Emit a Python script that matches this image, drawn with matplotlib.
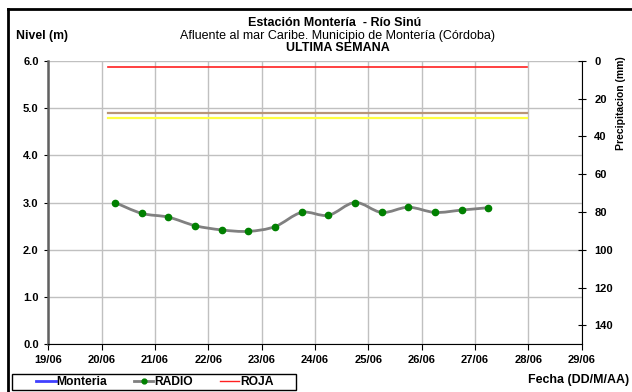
import matplotlib
matplotlib.use("Agg")
import matplotlib.pyplot as plt
from matplotlib.path import Path
from matplotlib.patches import PathPatch, Rectangle
from matplotlib.lines import Line2D

plt.rcParams['font.family'] = ['Liberation Sans', 'DejaVu Sans']

# dias contados desde 19/06 00:00
fechas = ["19/06", "20/06", "21/06", "22/06", "23/06", "24/06",
          "25/06", "26/06", "27/06", "28/06", "29/06"]
radio_dias = [1.25, 1.75, 2.25, 2.75, 3.25, 3.75, 4.25, 4.75,
              5.25, 5.75, 6.25, 6.75, 7.25, 7.75, 8.25]
radio_nivel = [3.00, 2.77, 2.69, 2.51, 2.42, 2.39, 2.49, 2.79,
               2.73, 3.00, 2.79, 2.90, 2.79, 2.84, 2.89]
monteria_dias = []
monteria_nivel = []

# umbrales (roja, naranja, amarilla)
umbral_dias = [1.11, 8.97]
nivel_roja = 5.86
nivel_naranja = 4.90
nivel_amarilla = 4.79

W, H = 632, 392
fig = plt.figure(figsize=(W / 100, H / 100), dpi=100)
ax = fig.add_axes([48.4 / W, 1 - 344.3 / H, (581.7 - 48.4) / W, (344.3 - 60.7) / H])
ax2 = ax.twinx()

ax.set_xlim(0, len(fechas) - 1)
ax.set_ylim(0, 6)
ax.set_xticks(range(len(fechas)))
ax.set_xticklabels(fechas)
ax.set_yticks([0, 1, 2, 3, 4, 5, 6])
ax.set_yticklabels(["%.1f" % v for v in range(7)])
ax.grid(True, color="#c0c0c0", lw=1)
ax.set_axisbelow(True)

for s in ["top", "right"]:
    ax.spines[s].set_visible(False)
ax.spines["left"].set_color("#606060")
ax.spines["left"].set_linewidth(1.8)
ax.spines["bottom"].set_color("black")
ax.tick_params(axis="x", direction="out", length=4, labelsize=8, pad=4)
ax.tick_params(axis="y", direction="out", length=3, labelsize=8, pad=4)
for lab in ax.get_xticklabels() + ax.get_yticklabels():
    lab.set_fontweight("bold")

ax2.set_ylim(150, 0)
ax2.set_yticks(range(0, 150, 20))
for s in ["top", "left", "bottom"]:
    ax2.spines[s].set_visible(False)
ax2.spines["right"].set_color("black")
ax2.tick_params(axis="y", direction="inout", length=6, labelsize=8, pad=6)
for lab in ax2.get_yticklabels():
    lab.set_fontweight("bold")

# umbrales
ax.plot(umbral_dias, [nivel_roja] * 2, color="#ff2020", lw=1.2, zorder=3)
ax.plot(umbral_dias, [nivel_naranja] * 2, color="#b89577", lw=1.6, zorder=3)
ax.plot(umbral_dias, [nivel_amarilla] * 2, color="#ffff40", lw=1.6, zorder=3)

# linea suavizada tipo Excel (Bezier con tangentes Catmull-Rom)
n = len(radio_dias)
verts = [(radio_dias[0], radio_nivel[0])]
codes = [Path.MOVETO]
for i in range(n - 1):
    p0 = (radio_dias[max(i - 1, 0)], radio_nivel[max(i - 1, 0)])
    p1 = (radio_dias[i], radio_nivel[i])
    p2 = (radio_dias[i + 1], radio_nivel[i + 1])
    p3 = (radio_dias[min(i + 2, n - 1)], radio_nivel[min(i + 2, n - 1)])
    c1 = (p1[0] + (p2[0] - p0[0]) / 6, p1[1] + (p2[1] - p0[1]) / 6)
    c2 = (p2[0] - (p3[0] - p1[0]) / 6, p2[1] - (p3[1] - p1[1]) / 6)
    verts += [c1, c2, p2]
    codes += [Path.CURVE4] * 3
ax.add_patch(PathPatch(Path(verts, codes), fill=False, edgecolor="#808080",
                       lw=2.0, zorder=4, transform=ax.transData))
ax.plot(radio_dias, radio_nivel, ls="none", marker="o", ms=4.5,
        color="#008000", zorder=5)
ax.plot(monteria_dias, monteria_nivel, color="#4040ff", lw=2)

# textos
fig.text(335 / W, 1 - 22.7 / H, "Estación Montería  - Río Sinú", ha="center",
         va="center", fontsize=9, fontweight="bold")
fig.text(338 / W, 1 - 36 / H, "Afluente al mar Caribe. Municipio de Montería (Córdoba)",
         ha="center", va="center", fontsize=9)
fig.text(338 / W, 1 - 48 / H, "ULTIMA SEMANA", ha="center", va="center",
         fontsize=9, fontweight="bold")
fig.text(16 / W, 1 - 35.5 / H, "Nivel (m)", ha="left", va="center",
         fontsize=8.8, fontweight="bold")
fig.text(621.5 / W, 1 - 103 / H, "Precipitacion (mm)", ha="center", va="center",
         rotation=90, fontsize=7.5, fontweight="bold")
fig.text(629 / W, 1 - 380 / H, "Fecha (DD/M/AA)", ha="right", va="center",
         fontsize=8.9, fontweight="bold")

# leyenda
handles = [
    Line2D([], [], color="#4040ff", lw=2),
    Line2D([], [], color="#808080", lw=2, marker="o", ms=3.5,
           markerfacecolor="#008000", markeredgecolor="#008000"),
    Line2D([], [], color="#ff2020", lw=1),
]
fig.legend(handles, ["Monteria", "RADIO", "ROJA"], loc="center",
           bbox_to_anchor=(155 / W, 1 - 382 / H), ncol=3, frameon=False,
           borderpad=0, borderaxespad=0, handlelength=1.6, handletextpad=0.1,
           columnspacing=2.2, prop={"size": 8.7, "weight": "bold"})
fig.add_artist(Rectangle((11.7 / W, 1 - 389.5 / H), (296 - 11.7) / W,
                         (389.5 - 374.3) / H, fill=False, edgecolor="black",
                         lw=1, transform=fig.transFigure))

# marco
fig.add_artist(Line2D([7.5 / W, 7.5 / W], [0, 1 - 9 / H], color="black",
                      lw=2, transform=fig.transFigure))
fig.add_artist(Line2D([7.5 / W, 1], [1 - 9 / H, 1 - 9 / H], color="black",
                      lw=2, transform=fig.transFigure))

fig.savefig("out.png", dpi=100)
